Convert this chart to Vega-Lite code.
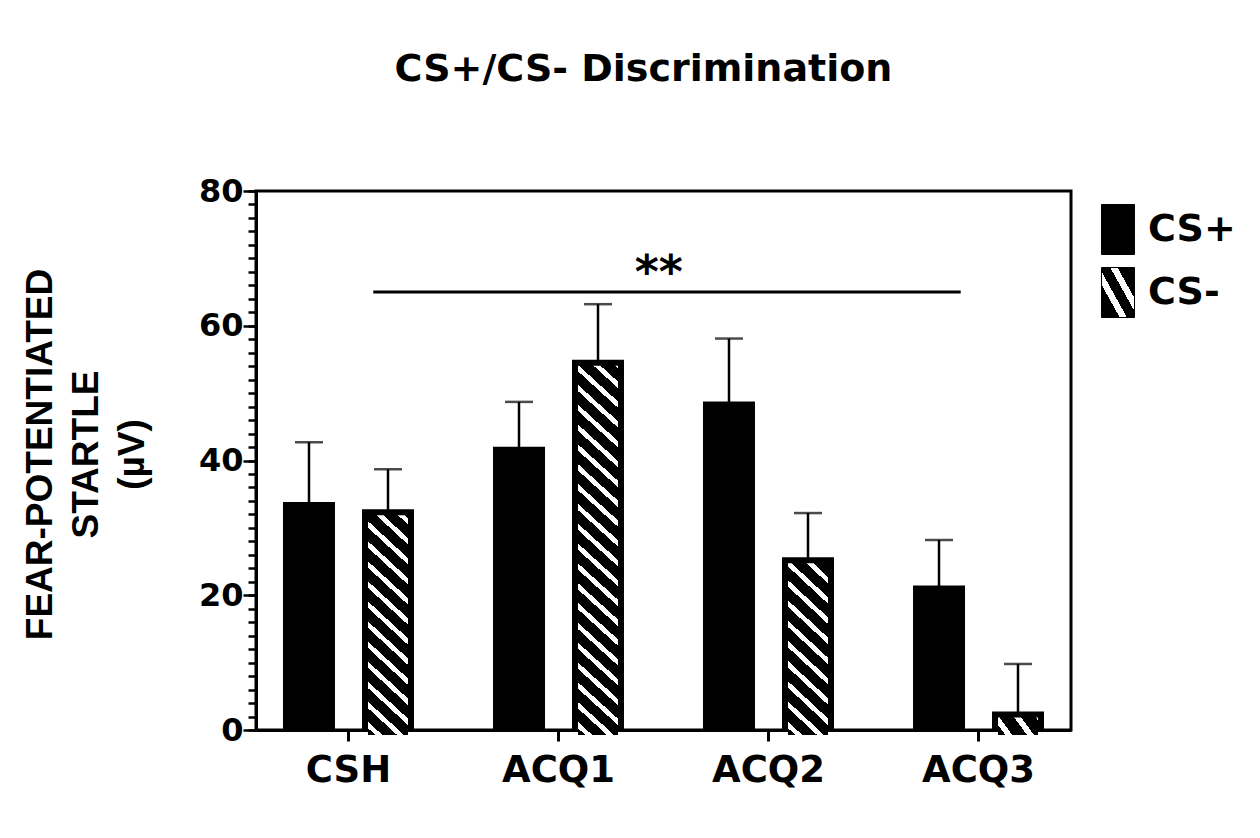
{
 "$schema": "https://vega.github.io/schema/vega-lite/v6.json",
 "width": 815,
 "height": 539,
 "autosize": {"type": "none"},
 "padding": {"left": 256, "top": 191, "right": 189, "bottom": 108},
 "background": "white",
 "params": [
  {"name": "legendHatch", "value": {"gradient": "linear", "x1": 0, "y1": 1, "x2": 1.078, "y2": 0.0925, "stops": [{"offset": 0, "color": "#000"}, {"offset": 0.3, "color": "#000"}, {"offset": 0.3, "color": "#fff"}, {"offset": 0.42, "color": "#fff"}, {"offset": 0.42, "color": "#000"}, {"offset": 0.6, "color": "#000"}, {"offset": 0.6, "color": "#fff"}, {"offset": 0.72, "color": "#fff"}, {"offset": 0.72, "color": "#000"}, {"offset": 1, "color": "#000"}]}}
 ],
 "title": {"text": "CS+/CS- Discrimination", "font": "DejaVu Sans", "fontSize": 38, "fontWeight": "bold", "color": "black", "anchor": "middle", "frame": "group", "dx": -20, "baseline": "alphabetic", "offset": 56},
 "config": {"view": {"stroke": "black", "strokeWidth": 3}},
 "resolve": {"axis": {"y": "independent"}},
 "datasets": {
  "bars": [
   {"time": "CSH", "group": "CS+", "val": 33.7, "err": 42.7},
   {"time": "CSH", "group": "CS-", "val": 32.6, "err": 38.7},
   {"time": "ACQ1", "group": "CS+", "val": 41.9, "err": 48.7},
   {"time": "ACQ1", "group": "CS-", "val": 54.8, "err": 63.2},
   {"time": "ACQ2", "group": "CS+", "val": 48.6, "err": 58.1},
   {"time": "ACQ2", "group": "CS-", "val": 25.5, "err": 32.2},
   {"time": "ACQ3", "group": "CS+", "val": 21.3, "err": 28.2},
   {"time": "ACQ3", "group": "CS-", "val": 2.6, "err": 9.8}
  ],
  "sig": [{"from": "CSH", "to": "ACQ3", "p": 65, "label": "**"}]
 },
 "layer": [
  {
   "data": {"name": "bars"},
   "mark": {"type": "bar", "fill": "black", "stroke": "black", "strokeWidth": 2},
   "encoding": {
    "x": {"field": "time", "type": "nominal", "title": null,
     "scale": {"domain": ["CSH", "ACQ1", "ACQ2", "ACQ3"], "paddingInner": 0.3857, "paddingOuter": 0.1333},
     "axis": {"domainColor": "black", "domainWidth": 3, "tickColor": "black", "tickWidth": 3, "tickSize": 11, "labelFont": "DejaVu Sans", "labelFontSize": 37, "labelFontWeight": "bold", "labelColor": "black", "labelPadding": 11, "labelAngle": 0, "title": null}},
    "xOffset": {"field": "group", "type": "nominal", "scale": {"domain": ["CS+", "CS-"], "paddingInner": 0.367, "paddingOuter": 0}},
    "y": {"field": "val", "type": "quantitative", "title": ["FEAR-POTENTIATED", "STARTLE", "(µV)"],
     "scale": {"domain": [0, 80], "nice": false},
     "axis": {"orient": "left", "values": [0, 20, 40, 60, 80],
      "domainColor": "black", "domainWidth": 3, "tickColor": "black", "tickWidth": 2.5, "tickSize": 13,
      "labelOverlap": false, "labelFlush": false,
      "labelPadding": 0, "labelFont": "DejaVu Sans", "labelFontSize": 32, "labelFontWeight": "bold", "labelColor": "black", "grid": false,
      "titleFont": "Liberation Sans", "titleFontSize": 37, "titleFontWeight": "bold", "titleColor": "black", "titleLineHeight": 46,
      "titleX": -197, "titleY": 263, "titleAngle": -90, "titleAlign": "center", "titleBaseline": "bottom"}}
   }
  },
  {
   "data": {"name": "bars"},
   "transform": [{"filter": "datum.group === 'CS-'"}],
   "mark": {"type": "bar", "width": 40, "yOffset": 5, "y2Offset": -1, "strokeWidth": 0},
   "encoding": {
    "x": {"field": "time", "type": "nominal", "title": null},
    "xOffset": {"field": "group", "type": "nominal"},
    "y": {"field": "val", "type": "quantitative", "axis": null},
    "fill": {"field": "group", "type": "nominal",
     "scale": {"domain": ["CS+", "CS-"], "range": ["black", {"expr": "legendHatch"}]},
     "legend": {"orient": "none", "legendX": 836.5, "legendY": 13, "title": null, "symbolType": "M-0.66,-1H0.66V1H-0.66Z", "symbolSize": 2500, "symbolStrokeColor": "black", "symbolStrokeWidth": 1, "symbolOpacity": 1, "labelFont": "DejaVu Sans", "labelFontSize": 38, "labelFontWeight": "bold", "labelColor": "black", "labelOffset": 4.5, "rowPadding": 8, "padding": 0, "labelLimit": 300},
     "condition": [
     {"test": "datum.time === 'CSH'", "value": {"gradient": "linear", "x1": 0, "y1": 1, "x2": 0.31434, "y2": -0.86509, "stops": [
      {"offset":0,"color":"#000"},
      {"offset":0.01619,"color":"#000"},{"offset":0.01619,"color":"#fff"},{"offset":0.03143,"color":"#fff"},{"offset":0.03143,"color":"#000"},
      {"offset":0.06381,"color":"#000"},{"offset":0.06381,"color":"#fff"},{"offset":0.07905,"color":"#fff"},{"offset":0.07905,"color":"#000"},
      {"offset":0.11143,"color":"#000"},{"offset":0.11143,"color":"#fff"},{"offset":0.12667,"color":"#fff"},{"offset":0.12667,"color":"#000"},
      {"offset":0.15905,"color":"#000"},{"offset":0.15905,"color":"#fff"},{"offset":0.17429,"color":"#fff"},{"offset":0.17429,"color":"#000"},
      {"offset":0.20667,"color":"#000"},{"offset":0.20667,"color":"#fff"},{"offset":0.2219,"color":"#fff"},{"offset":0.2219,"color":"#000"},
      {"offset":0.25429,"color":"#000"},{"offset":0.25429,"color":"#fff"},{"offset":0.26952,"color":"#fff"},{"offset":0.26952,"color":"#000"},
      {"offset":0.3019,"color":"#000"},{"offset":0.3019,"color":"#fff"},{"offset":0.31714,"color":"#fff"},{"offset":0.31714,"color":"#000"},
      {"offset":0.34952,"color":"#000"},{"offset":0.34952,"color":"#fff"},{"offset":0.36476,"color":"#fff"},{"offset":0.36476,"color":"#000"},
      {"offset":0.39714,"color":"#000"},{"offset":0.39714,"color":"#fff"},{"offset":0.41238,"color":"#fff"},{"offset":0.41238,"color":"#000"},
      {"offset":0.44476,"color":"#000"},{"offset":0.44476,"color":"#fff"},{"offset":0.46,"color":"#fff"},{"offset":0.46,"color":"#000"},
      {"offset":0.49238,"color":"#000"},{"offset":0.49238,"color":"#fff"},{"offset":0.50762,"color":"#fff"},{"offset":0.50762,"color":"#000"},
      {"offset":0.54,"color":"#000"},{"offset":0.54,"color":"#fff"},{"offset":0.55524,"color":"#fff"},{"offset":0.55524,"color":"#000"},
      {"offset":0.58762,"color":"#000"},{"offset":0.58762,"color":"#fff"},{"offset":0.60286,"color":"#fff"},{"offset":0.60286,"color":"#000"},
      {"offset":0.63524,"color":"#000"},{"offset":0.63524,"color":"#fff"},{"offset":0.65048,"color":"#fff"},{"offset":0.65048,"color":"#000"},
      {"offset":1,"color":"#000"}]}},
     {"test": "datum.time === 'ACQ1'", "value": {"gradient": "linear", "x1": 0, "y1": 1, "x2": 0.11072, "y2": -0.11706, "stops": [
      {"offset":0,"color":"#000"},
      {"offset":0.01619,"color":"#000"},{"offset":0.01619,"color":"#fff"},{"offset":0.03143,"color":"#fff"},{"offset":0.03143,"color":"#000"},
      {"offset":0.06381,"color":"#000"},{"offset":0.06381,"color":"#fff"},{"offset":0.07905,"color":"#fff"},{"offset":0.07905,"color":"#000"},
      {"offset":0.11143,"color":"#000"},{"offset":0.11143,"color":"#fff"},{"offset":0.12667,"color":"#fff"},{"offset":0.12667,"color":"#000"},
      {"offset":0.15905,"color":"#000"},{"offset":0.15905,"color":"#fff"},{"offset":0.17429,"color":"#fff"},{"offset":0.17429,"color":"#000"},
      {"offset":0.20667,"color":"#000"},{"offset":0.20667,"color":"#fff"},{"offset":0.2219,"color":"#fff"},{"offset":0.2219,"color":"#000"},
      {"offset":0.25429,"color":"#000"},{"offset":0.25429,"color":"#fff"},{"offset":0.26952,"color":"#fff"},{"offset":0.26952,"color":"#000"},
      {"offset":0.3019,"color":"#000"},{"offset":0.3019,"color":"#fff"},{"offset":0.31714,"color":"#fff"},{"offset":0.31714,"color":"#000"},
      {"offset":0.34952,"color":"#000"},{"offset":0.34952,"color":"#fff"},{"offset":0.36476,"color":"#fff"},{"offset":0.36476,"color":"#000"},
      {"offset":0.39714,"color":"#000"},{"offset":0.39714,"color":"#fff"},{"offset":0.41238,"color":"#fff"},{"offset":0.41238,"color":"#000"},
      {"offset":0.44476,"color":"#000"},{"offset":0.44476,"color":"#fff"},{"offset":0.46,"color":"#fff"},{"offset":0.46,"color":"#000"},
      {"offset":0.49238,"color":"#000"},{"offset":0.49238,"color":"#fff"},{"offset":0.50762,"color":"#fff"},{"offset":0.50762,"color":"#000"},
      {"offset":0.54,"color":"#000"},{"offset":0.54,"color":"#fff"},{"offset":0.55524,"color":"#fff"},{"offset":0.55524,"color":"#000"},
      {"offset":0.58762,"color":"#000"},{"offset":0.58762,"color":"#fff"},{"offset":0.60286,"color":"#fff"},{"offset":0.60286,"color":"#000"},
      {"offset":0.63524,"color":"#000"},{"offset":0.63524,"color":"#fff"},{"offset":0.65048,"color":"#fff"},{"offset":0.65048,"color":"#000"},
      {"offset":0.68286,"color":"#000"},{"offset":0.68286,"color":"#fff"},{"offset":0.6981,"color":"#fff"},{"offset":0.6981,"color":"#000"},
      {"offset":0.73048,"color":"#000"},{"offset":0.73048,"color":"#fff"},{"offset":0.74571,"color":"#fff"},{"offset":0.74571,"color":"#000"},
      {"offset":0.7781,"color":"#000"},{"offset":0.7781,"color":"#fff"},{"offset":0.79333,"color":"#fff"},{"offset":0.79333,"color":"#000"},
      {"offset":0.82571,"color":"#000"},{"offset":0.82571,"color":"#fff"},{"offset":0.84095,"color":"#fff"},{"offset":0.84095,"color":"#000"},
      {"offset":0.87333,"color":"#000"},{"offset":0.87333,"color":"#fff"},{"offset":0.88857,"color":"#fff"},{"offset":0.88857,"color":"#000"},
      {"offset":0.92095,"color":"#000"},{"offset":0.92095,"color":"#fff"},{"offset":0.93619,"color":"#fff"},{"offset":0.93619,"color":"#000"},
      {"offset":0.96857,"color":"#000"},{"offset":0.96857,"color":"#fff"},{"offset":0.98381,"color":"#fff"},{"offset":0.98381,"color":"#000"},
      {"offset":1,"color":"#000"}]}},
     {"test": "datum.time === 'ACQ2'", "value": {"gradient": "linear", "x1": 0, "y1": 1, "x2": 0.51239, "y2": -1.35983, "stops": [
      {"offset":0,"color":"#000"},
      {"offset":0.01619,"color":"#000"},{"offset":0.01619,"color":"#fff"},{"offset":0.03143,"color":"#fff"},{"offset":0.03143,"color":"#000"},
      {"offset":0.06381,"color":"#000"},{"offset":0.06381,"color":"#fff"},{"offset":0.07905,"color":"#fff"},{"offset":0.07905,"color":"#000"},
      {"offset":0.11143,"color":"#000"},{"offset":0.11143,"color":"#fff"},{"offset":0.12667,"color":"#fff"},{"offset":0.12667,"color":"#000"},
      {"offset":0.15905,"color":"#000"},{"offset":0.15905,"color":"#fff"},{"offset":0.17429,"color":"#fff"},{"offset":0.17429,"color":"#000"},
      {"offset":0.20667,"color":"#000"},{"offset":0.20667,"color":"#fff"},{"offset":0.2219,"color":"#fff"},{"offset":0.2219,"color":"#000"},
      {"offset":0.25429,"color":"#000"},{"offset":0.25429,"color":"#fff"},{"offset":0.26952,"color":"#fff"},{"offset":0.26952,"color":"#000"},
      {"offset":0.3019,"color":"#000"},{"offset":0.3019,"color":"#fff"},{"offset":0.31714,"color":"#fff"},{"offset":0.31714,"color":"#000"},
      {"offset":0.34952,"color":"#000"},{"offset":0.34952,"color":"#fff"},{"offset":0.36476,"color":"#fff"},{"offset":0.36476,"color":"#000"},
      {"offset":0.39714,"color":"#000"},{"offset":0.39714,"color":"#fff"},{"offset":0.41238,"color":"#fff"},{"offset":0.41238,"color":"#000"},
      {"offset":0.44476,"color":"#000"},{"offset":0.44476,"color":"#fff"},{"offset":0.46,"color":"#fff"},{"offset":0.46,"color":"#000"},
      {"offset":0.49238,"color":"#000"},{"offset":0.49238,"color":"#fff"},{"offset":0.50762,"color":"#fff"},{"offset":0.50762,"color":"#000"},
      {"offset":1,"color":"#000"}]}},
     {"test": "datum.time === 'ACQ3'", "value": {"gradient": "linear", "x1": 0, "y1": 1, "x2": 10.327, "y2": -2.29889, "stops": [
      {"offset":0,"color":"#000"},
      {"offset":0.01619,"color":"#000"},{"offset":0.01619,"color":"#fff"},{"offset":0.03143,"color":"#fff"},{"offset":0.03143,"color":"#000"},
      {"offset":0.06381,"color":"#000"},{"offset":0.06381,"color":"#fff"},{"offset":0.07905,"color":"#fff"},{"offset":0.07905,"color":"#000"},
      {"offset":0.11143,"color":"#000"},{"offset":0.11143,"color":"#fff"},{"offset":0.12667,"color":"#fff"},{"offset":0.12667,"color":"#000"},
      {"offset":1,"color":"#000"}]}}]
    }
   }
  },
  {
   "data": {"name": "bars"},
   "mark": {"type": "rule", "color": "black", "strokeWidth": 2.5},
   "encoding": {
    "x": {"field": "time", "type": "nominal", "title": null},
    "xOffset": {"field": "group", "type": "nominal"},
    "y": {"field": "val", "type": "quantitative",
     "axis": {"orient": "left", "values": [0,2,4,6,8,10,12,14,16,18,20,22,24,26,28,30,32,34,36,38,40,42,44,46,48,50,52,54,56,58,60,62,64,66,68,70,72,74,76,78,80],
      "labels": false, "domain": false, "grid": false, "title": null, "tickColor": "black", "tickWidth": 2.5, "tickSize": 8}},
    "y2": {"field": "err"}
   }
  },
  {
   "data": {"name": "bars"},
   "mark": {"type": "tick", "color": "black", "size": 28, "thickness": 2.5, "orient": "horizontal"},
   "encoding": {
    "x": {"field": "time", "type": "nominal", "title": null},
    "xOffset": {"field": "group", "type": "nominal"},
    "y": {"field": "err", "type": "quantitative", "axis": null}
   }
  },
  {
   "data": {"name": "sig"},
   "mark": {"type": "rule", "color": "black", "strokeWidth": 3},
   "encoding": {
    "x": {"field": "from", "type": "nominal", "bandPosition": 0.692, "title": null},
    "x2": {"field": "to", "bandPosition": 0.362},
    "y": {"field": "p", "type": "quantitative", "axis": null}
   }
  },
  {
   "data": {"name": "sig"},
   "mark": {"type": "text", "font": "DejaVu Sans", "fontSize": 46, "fontWeight": "bold", "color": "black", "baseline": "alphabetic", "align": "center", "dy": -4},
   "encoding": {
    "x": {"field": "from", "type": "nominal", "bandPosition": 2.905, "title": null},
    "y": {"field": "p", "type": "quantitative", "axis": null},
    "text": {"field": "label"}
   }
  }
 ]
}
